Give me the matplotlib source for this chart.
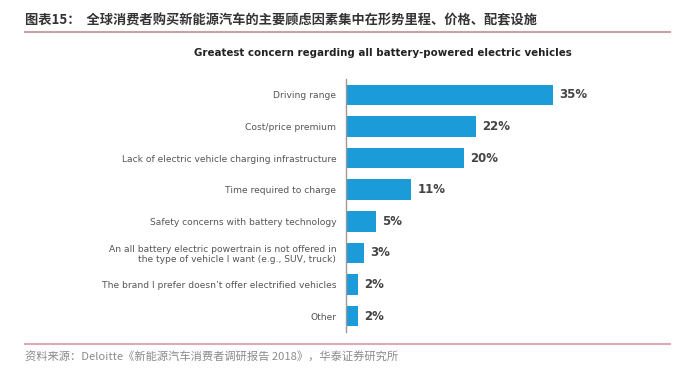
import matplotlib
matplotlib.use("Agg")
import matplotlib.pyplot as plt
from matplotlib.lines import Line2D

categories = [
    "Driving range",
    "Cost/price premium",
    "Lack of electric vehicle charging infrastructure",
    "Time required to charge",
    "Safety concerns with battery technology",
    "An all battery electric powertrain is not offered in\nthe type of vehicle I want (e.g., SUV, truck)",
    "The brand I prefer doesn\u2019t offer electrified vehicles",
    "Other",
]
values = [35, 22, 20, 11, 5, 3, 2, 2]
value_labels = ["35%", "22%", "20%", "11%", "5%", "3%", "2%", "2%"]

fig_title = "图表15：  全球消费者购买新能源汽车的主要顾虑因素集中在形势里程、价格、配套设施"
chart_title = "Greatest concern regarding all battery-powered electric vehicles"
source = "资料来源：Deloitte《新能源汽车消费者调研报告 2018》，华泰证券研究所"

W, H = 700, 373
fig = plt.figure(figsize=(W / 100, H / 100), dpi=100)
fig.patch.set_facecolor("white")

cjk = ["Noto Sans CJK SC", "DejaVu Sans"]

# header
fig.text(25 / W, 1 - 20 / H, fig_title, family=cjk, fontsize=9.5, fontweight="bold",
         color="#333333", va="center", ha="left")
fig.add_artist(Line2D([25 / W, 670 / W], [1 - 32 / H, 1 - 32 / H], color="#c8a2a6", lw=1.5))
fig.text(383 / W, 1 - 53 / H, chart_title, family="DejaVu Sans", fontsize=7.4,
         fontweight="bold", color="#222222", va="center", ha="center")

# footer
fig.add_artist(Line2D([25 / W, 670 / W], [1 - 344 / H, 1 - 344 / H], color="#dcaab5", lw=1.5))
fig.text(25 / W, 1 - 357 / H, source, family=cjk, fontsize=8.1, color="#8a8a8a",
         va="center", ha="left")

# axes
left, right, top, bottom = 346, 670, 79, 332
ax = fig.add_axes([left / W, 1 - bottom / H, (right - left) / W, (bottom - top) / H])
ypos = list(range(len(categories)))
ax.barh(ypos, values, height=0.65, color="#1b9bd7")
ax.set_ylim(len(categories) - 0.5, -0.5)
ax.set_xlim(0, max(values) * (right - left) / 207)
ax.set_yticks(ypos)
ax.set_yticklabels(categories, fontsize=6.6, color="#555555", family="DejaVu Sans",
                   linespacing=1.2)
ax.tick_params(axis="y", length=0, pad=7)
ax.set_xticks([])
for s in ["top", "right", "bottom"]:
    ax.spines[s].set_visible(False)
ax.spines["left"].set_color("#999999")
ax.spines["left"].set_linewidth(1)

for y, v, lab in zip(ypos, values, value_labels):
    ax.annotate(lab, (v, y), xytext=(4.5, 0), textcoords="offset points",
                va="center", ha="left", fontsize=8.5, fontweight="bold", color="#444444")

fig.savefig("out.png", dpi=100, facecolor="white")
